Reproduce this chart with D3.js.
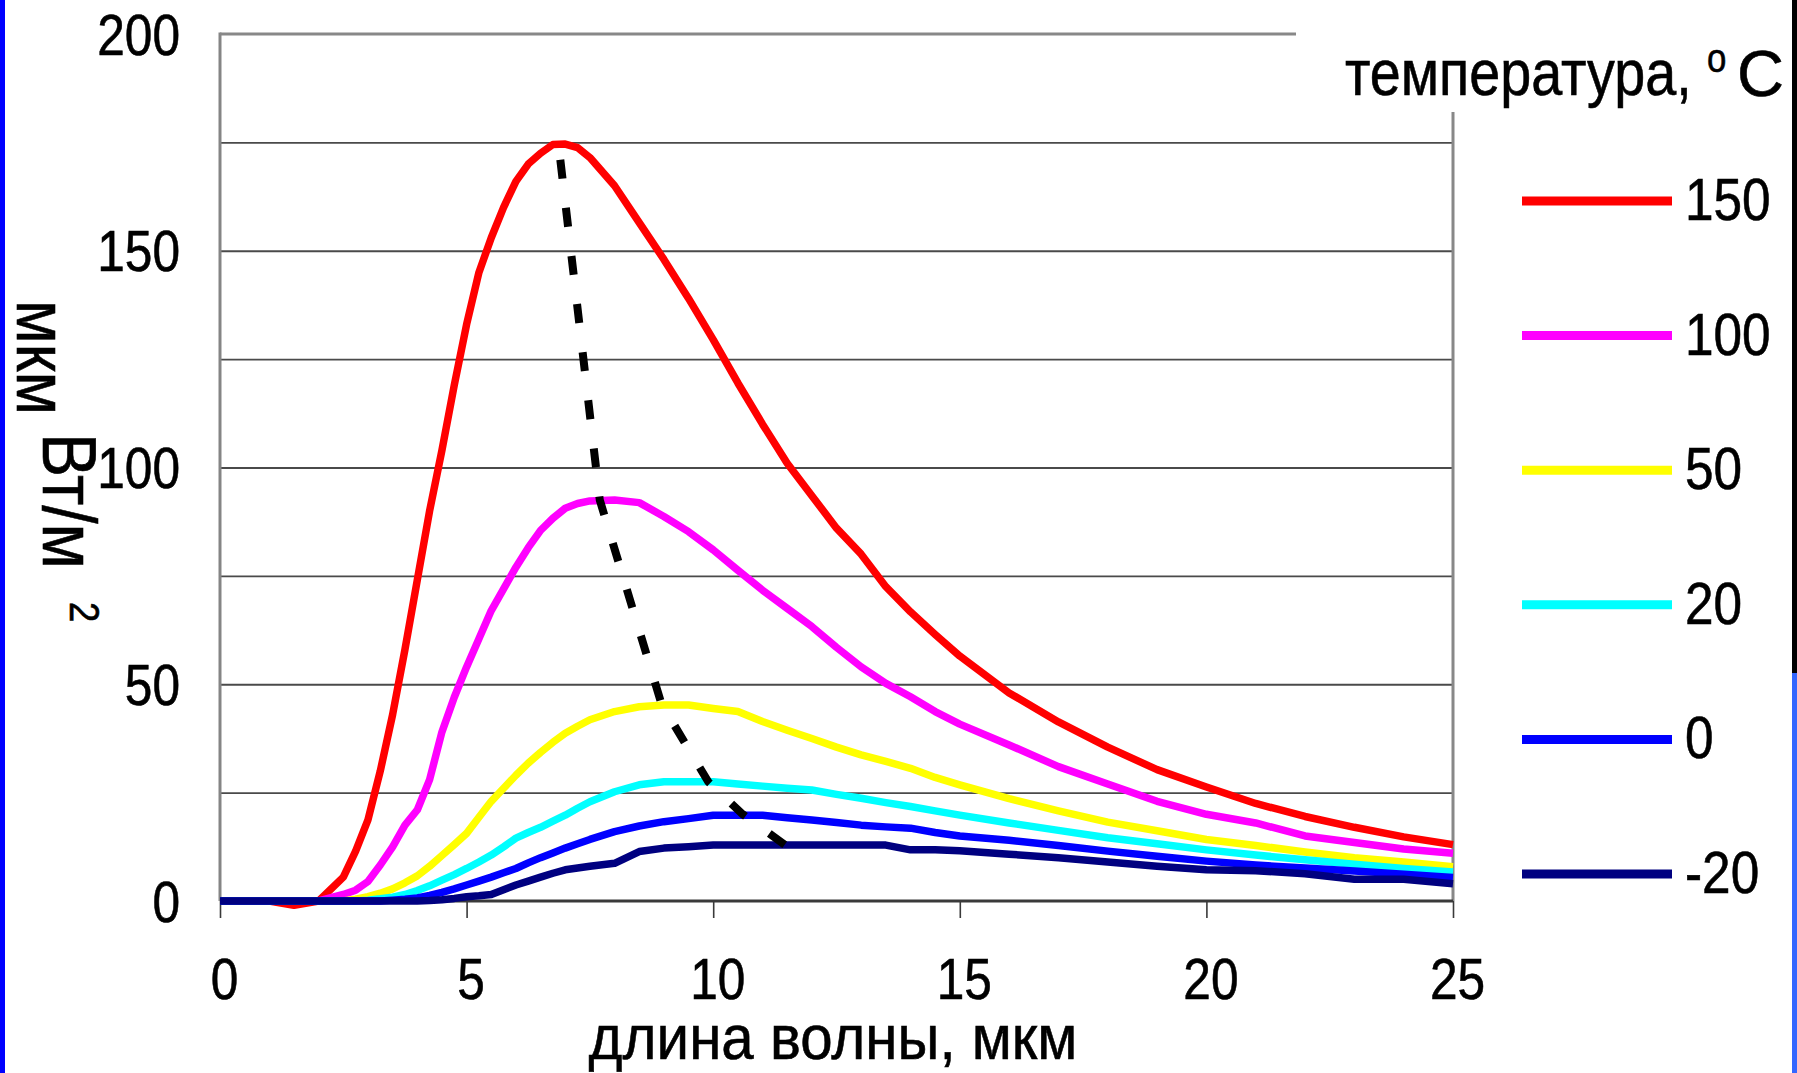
<!DOCTYPE html>
<html><head><meta charset="utf-8">
<script src="https://cdn.jsdelivr.net/npm/d3@7"></script>
<style>
html,body{margin:0;padding:0;background:#fff;overflow:hidden;}
svg{display:block;}
text{font-family:"Liberation Sans", Arial, sans-serif; fill:#000;}
</style></head><body>
<svg id="chart" width="1797" height="1073"></svg>
<script>
// ---------- data ----------
const wavelength = [0, 0.5, 1, 1.5, 2, 2.5, 2.75, 3, 3.25, 3.5, 3.75, 4, 4.25, 4.5, 4.75, 5, 5.25, 5.5, 5.75, 6, 6.25, 6.5, 6.75, 7, 7.25, 7.5, 8, 8.5, 9, 9.5, 10, 10.5, 11, 11.5, 12, 12.5, 13, 13.5, 14, 14.5, 15, 16, 17, 18, 19, 20, 21, 22, 23, 24, 25];
const t150 = [0,0,0,-1,0, 5.5,11.5, 18.7,30,43,58, 74,90,104,119, 133,145,153,160, 166,170,172.5,174.5, 174.6,173.8,171.5, 165,156.5,148,139, 129.5,119.5,110,101, 93.5,86,80,72.5, 66.7,61.5,56.5, 48,41.3,35.5,30.3,26.3,22.5,19.5,17,14.8,13];
const t100 = [0,0,0,0,0, 1.5,2.5, 4.5,8.3,12.5,17.5, 21,28,39,47, 54,60.5,67,72, 77,81.5,85.5,88.3, 90.6,91.7,92.3, 92.5,91.9,88.7,85.2, 81,76.3,71.7,67.5, 63.3,58.5,54,50.2, 47.1,43.7,40.8, 36,31,27,23,20,18,15,13.5,12,11];
const t50 = [0,0,0,0,0, 0,0.4, 1,1.8,2.8,4.2, 5.8,8,10.5,13, 15.6,19.3,23,26, 29,31.8,34.3,36.6, 38.7,40.3,41.8, 43.7,44.8,45.2,45.2, 44.4,43.7,41.4,39.4, 37.5,35.5,33.7,32.2, 30.6,28.5,26.8, 23.6,20.8,18.2,16.2,14.2,12.8,11.3,10,9,7.9];
const t20 = [0,0,0,0,0, 0,0, 0.2,0.5,0.9,1.5, 2.4,3.5,4.8,6.1, 7.5,9,10.6,12.5, 14.5,15.8,17,18.4, 19.8,21.4,22.9, 25.2,26.8,27.5,27.5, 27.5,27,26.5,26, 25.6,24.6,23.7,22.7, 21.8,20.8,19.8, 18,16.3,14.6,13.2,11.8,10.6,9.5,8.5,7.5,6.7];
const t0 = [0,0,0,0,0, 0,0, 0,0,0.2,0.4, 0.7,1.3,2,2.8, 3.7,4.6,5.5,6.5, 7.5,8.8,10,11.1, 12.2,13.2,14.2, 16,17.3,18.3,19, 19.8,19.8,19.8,19.2, 18.7,18.1,17.5,17.1, 16.8,15.8,15, 14,12.8,11.5,10.3,9.2,8.3,7.6,6.9,6.2,5.4];
const tm20 = [0,0,0,0,0, 0,0, 0,0,0,0, 0,0.1,0.3,0.6, 1,1.2,1.5,2.6, 3.7,4.6,5.5,6.4, 7.2,7.6,8, 8.7,11.4,12.2,12.5, 12.9,12.9,12.9,12.9, 12.9,12.9,12.9,12.9, 11.8,11.8,11.6, 10.8,10,9,8,7.2,7,6.3,5,5,4];
const temperatures = ["150", "100", "50", "20", "0", "-20"];
const wienX = [6.9, 7.7, 8.95, 9.9, 10.6, 11.45];
const wienY = [171, 92.5, 45.5, 27.5, 20, 13];
const xTicks = [0, 5, 10, 15, 20, 25];
const yTicks = [0, 50, 100, 150, 200];
const gridValues = [25, 50, 75, 100, 125, 150, 175];
const xTitle = "длина волны, мкм";
const legendTitle = "температура,";
const legendUnitSup = "o";
const legendUnit = "C";
const yTitleLine1 = "мкм";
const yTitleLine2 = "Вт/м";
const yTitleSup = "2";

// ---------- styles ----------
const series = [t150, t100, t50, t20, t0, tm20];
const colors = ["#ff0000", "#ff00ff", "#ffff00", "#00ffff", "#0000ff", "#000080"];
const narrow = "scale(0.87,1)";
const FONT = '"Liberation Sans", Arial, sans-serif';

const svg = d3.select("#chart");
const L = 220, R = 1453, T = 34, B = 901;
const x = d3.scaleLinear().domain([0, 25]).range([L, R]);
const y = d3.scaleLinear().domain([0, 200]).range([B, T]);

function label(tx, ty, rot, size, str, anchor, sx) {
  const sc = sx === undefined ? narrow : `scale(${sx},1)`;
  return svg.append("text")
    .attr("transform", `translate(${tx},${ty})${rot ? " rotate(" + rot + ")" : ""} ${sc}`)
    .attr("text-anchor", anchor || "start")
    .style("font-size", size + "px").style("font-family", FONT)
    .attr("stroke", "#000").attr("stroke-width", 0.6)
    .text(str);
}

// gridlines
const grid = svg.append("g").attr("transform", `translate(${L},0)`)
  .call(d3.axisLeft(y).tickValues(gridValues).tickSize(-(R - L)).tickFormat(""));
grid.select(".domain").remove();
grid.selectAll("line").attr("stroke", "#4a4a4a").attr("stroke-width", 1.8);

// frame
svg.append("line").attr("x1", L).attr("x2", L).attr("y1", T - 1.5).attr("y2", B).attr("stroke", "#858585").attr("stroke-width", 3);
svg.append("line").attr("x1", L).attr("x2", 1296).attr("y1", T).attr("y2", T).attr("stroke", "#888").attr("stroke-width", 3);
svg.append("line").attr("x1", R).attr("x2", R).attr("y1", 112).attr("y2", B).attr("stroke", "#888").attr("stroke-width", 3);

// x axis
const xg = svg.append("g").attr("transform", `translate(0,${B})`)
  .call(d3.axisBottom(x).tickValues(xTicks).tickSize(17).tickFormat(d3.format("d")));
xg.select(".domain").attr("stroke", "#3a3a3a").attr("stroke-width", 3).attr("d", `M${L},0H${R}`);
xg.selectAll(".tick line").attr("stroke", "#3a3a3a").attr("stroke-width", 1.6);
xg.selectAll(".tick text").attr("y", 98).attr("dy", null).attr("x", 0)
  .attr("transform", `translate(4,0) ${narrow}`)
  .style("font-size", "57px").style("font-family", FONT).attr("fill", "#000")
  .attr("stroke", "#000").attr("stroke-width", 0.6);

// y axis labels
const yg = svg.append("g").attr("transform", `translate(${L},0)`)
  .call(d3.axisLeft(y).tickValues(yTicks).tickSize(0).tickFormat(d3.format("d")));
yg.select(".domain").remove();
yg.selectAll(".tick text").attr("x", 0).attr("y", 20).attr("dy", null)
  .attr("text-anchor", "end").attr("transform", `translate(-40,0) ${narrow}`)
  .style("font-size", "57px").style("font-family", FONT).attr("fill", "#000")
  .attr("stroke", "#000").attr("stroke-width", 0.6);

// data lines
const line = d3.line().x((d, i) => x(wavelength[i])).y(d => y(d));
series.forEach((s, i) => {
  svg.append("path").datum(s).attr("d", line)
    .attr("fill", "none").attr("stroke", colors[i]).attr("stroke-width", 7.5)
    .attr("stroke-linejoin", "round");
});

// Wien displacement dashed line (dash pattern fitted so it begins and ends with a dash)
const wline = d3.line().x((d, i) => x(wienX[i])).y(d => y(d));
const wpath = svg.append("path").datum(wienY).attr("d", wline)
  .attr("fill", "none").attr("stroke", "#000").attr("stroke-width", 8);
const wlen = wpath.node().getTotalLength();
const dash = 19, nGaps = Math.round((wlen - dash) / 47);
wpath.attr("stroke-dasharray", `${dash} ${(wlen - dash * (nGaps + 1)) / nGaps}`);

// legend
const ly = d3.scalePoint().domain(temperatures).range([201, 874]);
temperatures.forEach((t, i) => {
  svg.append("line").attr("x1", 1522).attr("x2", 1672).attr("y1", ly(t)).attr("y2", ly(t))
    .attr("stroke", colors[i]).attr("stroke-width", 9);
  label(1685, ly(t) + 19, 0, 59, t);
});
label(1345, 95, 0, 64, legendTitle);
label(1707, 72, 0, 40, legendUnitSup);
label(1737, 96, 0, 65, legendUnit, "start", 1);

// axis titles
label(833, 1059, 0, 63, xTitle, "middle", 0.925);
label(17, 300, 90, 73, yTitleLine1);
label(43, 433, 90, 76, yTitleLine2);
label(70, 602, 90, 42, yTitleSup);

// side bars of the picture frame
svg.append("rect").attr("x", 0).attr("y", 0).attr("width", 5).attr("height", 1073).attr("fill", "#0000ff");
svg.append("rect").attr("x", 1792).attr("y", 0).attr("width", 5).attr("height", 673).attr("fill", "#000");
svg.append("rect").attr("x", 1792).attr("y", 673).attr("width", 5).attr("height", 400).attr("fill", "#3366ff");
</script>
</body></html>
